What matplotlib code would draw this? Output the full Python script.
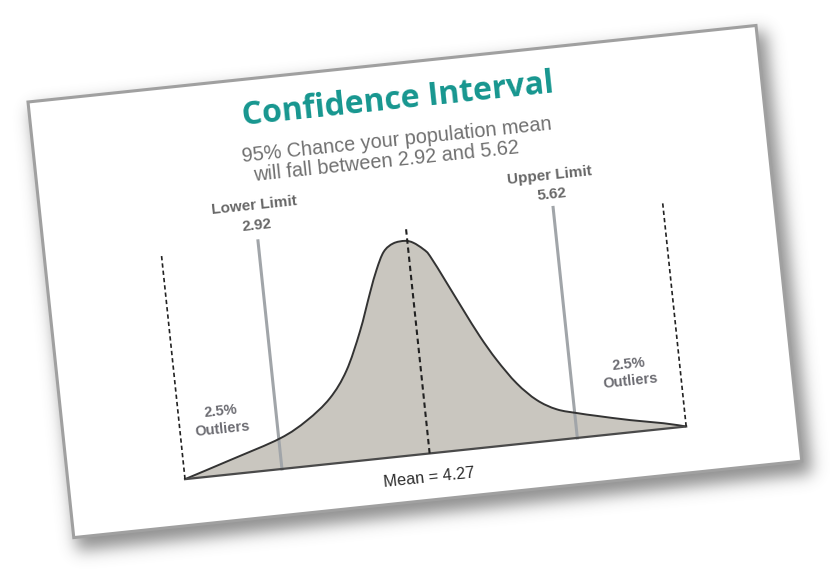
import numpy as np
import matplotlib
matplotlib.use("Agg")
import matplotlib.pyplot as plt
from matplotlib.transforms import Affine2D
from matplotlib.patches import Rectangle, PathPatch
from matplotlib.path import Path

# ---------------- data ----------------
curve_x = [2.034, 2.482, 2.932, 3.191, 3.420, 3.596, 3.755, 3.883, 3.965, 4.047,
           4.141, 4.250, 4.323, 4.406, 4.460, 4.586, 4.711, 4.836, 4.965, 5.124,
           5.289, 5.461, 5.653, 5.817, 6.115, 6.415, 6.615]
curve_y = [0.000, 0.070, 0.143, 0.213, 0.305, 0.425, 0.600, 0.775, 0.880, 0.960,
           0.994, 1.000, 0.987, 0.953, 0.918, 0.785, 0.650, 0.519, 0.402, 0.283,
           0.196, 0.143, 0.114, 0.093, 0.057, 0.026, 0.000]
mean_val = 4.27
lower_val = 2.92
upper_val = 5.62
title = "Confidence Interval"
subtitle_1 = "95% Chance your population mean"
subtitle_2 = "will fall between 2.92 and 5.62"
lower_label = ["Lower Limit", "2.92"]
upper_label = ["Upper Limit", "5.62"]
outlier_label = ["2.5%", "Outliers"]
mean_label = "Mean = 4.27"

sans = ["Liberation Sans", "DejaVu Sans"]

# ---------------- geometry ----------------
W, H = 836, 581
fig = plt.figure(figsize=(W / 100, H / 100), dpi=100)
fig.patch.set_facecolor("white")

ANG = 6.0
ox, oy = 28.0, H - 102.0          # card top-left (display px)
CW, CH = 732.0, 438.0             # card size
rot = Affine2D().rotate_deg_around(ox, oy, ANG)

bg = fig.add_axes([0, 0, 1, 1])
bg.axis("off")
TB = bg.transData + rot

# shadow
yy, xx = np.mgrid[0:H, 0:W] + 0.5
cs, sn = np.cos(np.radians(ANG)), np.sin(np.radians(ANG))
sx, sy = 6.0, 9.0
vx = xx - (28 + sx)
vy = yy - (102 + sy)
cxm = vx * cs - vy * sn
cym = vx * sn + vy * cs
mask = ((cxm > -3) & (cxm < CW + 4) & (cym > -3) & (cym < CH + 4)).astype(float)


def blur(a, sig):
    r = int(3 * sig)
    k = np.exp(-0.5 * (np.arange(-r, r + 1) / sig) ** 2)
    k /= k.sum()
    a = np.apply_along_axis(lambda m: np.convolve(m, k, mode="same"), 1, a)
    a = np.apply_along_axis(lambda m: np.convolve(m, k, mode="same"), 0, a)
    return a


sh = blur(mask, 8.0)
rgba = np.zeros((H, W, 4))
rgba[..., :3] = 0.33
rgba[..., 3] = 0.65 * sh
bg.imshow(rgba, extent=(0, W, 0, H), origin="upper", zorder=0, aspect="auto")
bg.set_xlim(0, W)
bg.set_ylim(0, H)

card = Rectangle((ox, oy - CH), CW, CH, facecolor="white", edgecolor="#a0a0a0",
                 lw=2.2, transform=TB, zorder=1)
bg.add_patch(card)


def card_text(cx, cy, s, **kw):
    bg.text(ox + cx, oy - cy, s, transform=TB, rotation=ANG, rotation_mode="anchor",
            ha="center", va="baseline", zorder=5, **kw)


card_text(367.6, 45.0, title, fontsize=23, fontweight="bold", color="#16968f",
          family=["Open Sans", "DejaVu Sans"])
card_text(362.9, 82.2, subtitle_1, fontsize=14.3, color="#707070", family=sans)
card_text(349.9, 102.6, subtitle_2, fontsize=14.3, color="#707070", family=sans)

# ---------------- chart axes (unrotated frame, then rotated) ----------------
A, B = -107.0, 110.0               # card x = A + B*value
XL = (1.5, 7.0)
YL = (0.0, 1.4)
base_cy = 391.5
unit = 214.0
left = ox + A + B * XL[0]
right = ox + A + B * XL[1]
bottom = oy - base_cy
top = bottom + unit * YL[1]
ax = fig.add_axes([left / W, bottom / H, (right - left) / W, (top - bottom) / H])
ax.axis("off")
T = ax.transData + rot

# smooth curve path (Catmull-Rom drawn as cubic Bezier segments)
P = np.column_stack([curve_x, curve_y])
Pe = np.vstack([P[0], P, P[-1]])
verts = [P[0]]
codes = [Path.MOVETO]
for i in range(1, len(Pe) - 2):
    p0, p1, p2, p3 = Pe[i - 1], Pe[i], Pe[i + 1], Pe[i + 2]
    c1 = p1 + (p2 - p0) / 6.0
    c2 = p2 - (p3 - p1) / 6.0
    verts += [c1, c2, p2]
    codes += [Path.CURVE4] * 3
curve_path = Path(verts, codes)
fill_path = Path(verts + [P[0], P[0]], codes + [Path.LINETO, Path.CLOSEPOLY])

ax.add_patch(PathPatch(fill_path, facecolor="#c9c6bf", lw=0, transform=T, zorder=2,
                       clip_on=False))
ax.add_patch(PathPatch(curve_path, facecolor="none", edgecolor="#333333", lw=1.4,
                       transform=T, zorder=4, clip_on=False))
ax.plot([curve_x[0], curve_x[-1]], [0, 0], color="#4a4a4a", lw=1.6, transform=T,
        zorder=4, clip_on=False)

dash = (0, (2.6, 1.8))
ax.plot([curve_x[0], curve_x[0]], [0, 1.058], color="#222222", lw=1.2, ls=dash,
        transform=T, zorder=5, clip_on=False)
ax.plot([curve_x[-1], curve_x[-1]], [0, 1.054], color="#222222", lw=1.2, ls=dash,
        transform=T, zorder=5, clip_on=False)
ax.plot([mean_val, mean_val], [0, 1.065], color="#222222", lw=1.5, ls=dash,
        transform=T, zorder=5, clip_on=False)
ax.plot([lower_val, lower_val], [0, 1.072], color="#a1a5a9", lw=2.2,
        transform=T, zorder=3, clip_on=False)
ax.plot([upper_val, upper_val], [0, 1.083], color="#a1a5a9", lw=2.2,
        transform=T, zorder=3, clip_on=False)


def chart_text(x, y, s, **kw):
    ax.text(x, y, s, transform=T, rotation=ANG, rotation_mode="anchor",
            ha="center", va="baseline", zorder=6, clip_on=False, **kw)


lab = dict(fontsize=11, fontweight="bold", color="#676767", family=sans)
chart_text(lower_val, 1.217, lower_label[0], **lab)
chart_text(lower_val, 1.124, lower_label[1], **lab)
chart_text(upper_val, 1.212, upper_label[0], **lab)
chart_text(upper_val, 1.126, upper_label[1], **lab)

olab = dict(fontsize=10.5, fontweight="bold", color="#6c6c72", family=sans)
chart_text(2.42, 0.280, outlier_label[0], **olab)
chart_text(2.42, 0.196, outlier_label[1], **olab)
chart_text(6.15, 0.298, outlier_label[0], **olab)
chart_text(6.15, 0.220, outlier_label[1], **olab)

chart_text(mean_val - 0.03, -0.133, mean_label, fontsize=11.8, color="#2e2e2e",
           family=sans)

ax.set_xlim(*XL)
ax.set_ylim(*YL)

fig.savefig("out.png", dpi=100, facecolor="white")
